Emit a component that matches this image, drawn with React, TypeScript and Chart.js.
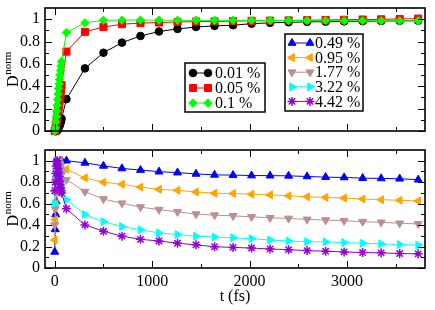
import React, { useEffect, useRef } from 'react';
import { Chart, registerables } from 'chart.js';
import { drawPoint } from 'chart.js/helpers';

Chart.register(...registerables);

// ---------- data ----------
const times = [0, 5, 10, 15, 20, 25, 30, 35, 40, 45, 50, 55, 60, 65, 70,
  120, 310, 500, 690, 880, 1070, 1260, 1450, 1640, 1830, 2020, 2210, 2400, 2590, 2780, 2970, 3160, 3350, 3540, 3730];

const topLabels = ['0.01 %', '0.05 %', '0.1 %'];
const d001 = [0, 0, 0, 0, 0, 0.005, 0.01, 0.02, 0.03, 0.04, 0.05, 0.06, 0.075, 0.09, 0.11,
  0.285, 0.56, 0.70, 0.79, 0.85, 0.89, 0.913, 0.93, 0.94, 0.946, 0.96, 0.967, 0.972, 0.976, 0.978, 0.98, 0.982, 0.984, 0.985, 0.986];
const d005 = [0, 0.01, 0.03, 0.06, 0.09, 0.12, 0.15, 0.18, 0.21, 0.24, 0.27, 0.30, 0.33, 0.37, 0.41,
  0.71, 0.887, 0.93, 0.955, 0.965, 0.97, 0.975, 0.978, 0.98, 0.983, 0.985, 0.987, 0.989, 0.991, 0.993, 0.995, 0.997, 0.999, 1.002, 1.005];
const d01 = [0, 0.03, 0.08, 0.13, 0.18, 0.23, 0.28, 0.33, 0.38, 0.42, 0.46, 0.50, 0.54, 0.58, 0.62,
  0.88, 0.967, 0.99, 0.992, 0.992, 0.991, 0.99, 0.99, 0.99, 0.99, 0.989, 0.989, 0.988, 0.988, 0.988, 0.987, 0.987, 0.987, 0.986, 0.986];

const bottomLabels = ['0.49 %', '0.95 %', '1.77 %', '3.22 %', '4.42 %'];
const d049 = [0.15, 0.36, 0.5, 0.62, 0.72, 0.8, 0.87, 0.92, 0.96, 0.98, 0.99, 1.0, 1.0, 1.0, 1.0,
  1.0, 0.98, 0.952, 0.928, 0.913, 0.898, 0.889, 0.877, 0.868, 0.866, 0.862, 0.861, 0.859, 0.853, 0.847, 0.844, 0.838, 0.835, 0.832, 0.823];
const d095 = [0.26, 0.45, 0.6, 0.72, 0.82, 0.9, 0.95, 0.98, 1.0, 1.0, 0.99, 0.98, 0.965, 0.95, 0.94,
  0.92, 0.84, 0.80, 0.78, 0.754, 0.733, 0.724, 0.709, 0.697, 0.694, 0.688, 0.682, 0.673, 0.664, 0.658, 0.652, 0.643, 0.637, 0.631, 0.625];
const d177 = [0.4, 0.55, 0.7, 0.82, 0.9, 0.96, 0.99, 1.0, 0.99, 0.97, 0.95, 0.93, 0.91, 0.89, 0.87,
  0.823, 0.712, 0.643, 0.604, 0.568, 0.544, 0.523, 0.502, 0.493, 0.486, 0.477, 0.468, 0.462, 0.453, 0.447, 0.441, 0.432, 0.426, 0.417, 0.411];
const d322 = [0.6, 0.72, 0.83, 0.92, 0.98, 1.0, 0.99, 0.96, 0.92, 0.88, 0.84, 0.8, 0.77, 0.74, 0.71,
  0.637, 0.498, 0.432, 0.387, 0.357, 0.327, 0.312, 0.297, 0.288, 0.282, 0.273, 0.261, 0.252, 0.246, 0.243, 0.237, 0.231, 0.225, 0.219, 0.213];
const d442 = [0.72, 0.8, 0.88, 0.95, 0.99, 1.0, 0.97, 0.93, 0.89, 0.85, 0.81, 0.78, 0.75, 0.72, 0.7,
  0.552, 0.402, 0.342, 0.297, 0.267, 0.252, 0.231, 0.216, 0.198, 0.192, 0.186, 0.177, 0.171, 0.162, 0.156, 0.15, 0.144, 0.141, 0.135, 0.132];

const xMajor = [0, 1000, 2000, 3000];
const xMinor = [500, 1500, 2500, 3500];
const yMajor = [0, 0.2, 0.4, 0.6, 0.8, 1];
const yMinor = [0.1, 0.3, 0.5, 0.7, 0.9];
const xTitle = 't (fs)';

// ---------- styles ----------
type Style = { color: string; pointStyle: string; rotation: number; radius: number; bw: number };
const topStyles: Style[] = [
  { color: '#000000', pointStyle: 'circle', rotation: 0, radius: 3.8, bw: 1 },
  { color: '#ff0000', pointStyle: 'rect', rotation: 0, radius: 5, bw: 1 },
  { color: '#00ff00', pointStyle: 'rectRot', rotation: 0, radius: 4.2, bw: 1 },
];
const bottomStyles: Style[] = [
  { color: '#0000ff', pointStyle: 'triangle', rotation: 0, radius: 4.6, bw: 1 },
  { color: '#ffa500', pointStyle: 'triangle', rotation: -90, radius: 4.6, bw: 1 },
  { color: '#bc8f8f', pointStyle: 'triangle', rotation: 180, radius: 4.6, bw: 1 },
  { color: '#00ffff', pointStyle: 'triangle', rotation: 90, radius: 4.6, bw: 1 },
  { color: '#9400d3', pointStyle: 'star', rotation: 0, radius: 4.5, bw: 1.5 },
];

const FONT = '"Liberation Serif", "Times New Roman", serif';

function makeDatasets(labels: string[], series: number[][], styles: Style[]) {
  const n = labels.length;
  return labels.map((label, i) => {
    const s = styles[i];
    return {
      label,
      data: times.map((t, k) => ({ x: t, y: series[i][k] })),
      borderColor: s.color,
      backgroundColor: s.color,
      borderWidth: 1,
      pointStyle: s.pointStyle,
      pointRotation: s.rotation,
      pointRadius: s.radius,
      pointHoverRadius: s.radius,
      pointBorderWidth: s.bw,
      pointBackgroundColor: s.color,
      pointBorderColor: s.color,
      tension: 0,
      order: n - i,
      clip: false,
    };
  });
}

function framePlugin() {
  return {
    id: 'frame',
    afterDatasetsDraw(chart: any) {
      const { ctx, chartArea: a, scales } = chart;
      const x = scales.x, y = scales.y;
      ctx.save();
      ctx.strokeStyle = '#000';
      ctx.lineWidth = 1;
      const seg = (x1: number, y1: number, x2: number, y2: number) => {
        ctx.beginPath(); ctx.moveTo(x1, y1); ctx.lineTo(x2, y2); ctx.stroke();
      };
      const xt = (vals: number[], len: number) => vals.forEach((v) => {
        const p = Math.round(x.getPixelForValue(v)) + 0.5;
        seg(p, a.bottom, p, a.bottom - len);
        seg(p, a.top, p, a.top + len);
      });
      const yt = (vals: number[], len: number) => vals.forEach((v) => {
        const p = Math.round(y.getPixelForValue(v)) + 0.5;
        seg(a.left, p, a.left + len, p);
        seg(a.right, p, a.right - len, p);
      });
      xt(xMajor, 7); xt(xMinor, 4);
      yt(yMajor, 7); yt(yMinor, 4);
      ctx.lineWidth = 1.6;
      ctx.strokeRect(a.left, a.top, a.right - a.left, a.bottom - a.top);
      ctx.restore();
    },
  };
}

function yTitlePlugin(xPos: number) {
  return {
    id: 'ytitle',
    afterDraw(chart: any) {
      const { ctx, chartArea: a } = chart;
      const cy = (a.top + a.bottom) / 2;
      ctx.save();
      ctx.translate(xPos, cy);
      ctx.rotate(-Math.PI / 2);
      ctx.fillStyle = '#000';
      ctx.textBaseline = 'alphabetic';
      ctx.textAlign = 'left';
      ctx.font = `16px ${FONT}`;
      const wD = ctx.measureText('D').width;
      ctx.font = `11px ${FONT}`;
      const wN = ctx.measureText('norm').width;
      const start = -(wD + wN) / 2;
      ctx.font = `16px ${FONT}`;
      ctx.fillText('D', start, 0);
      ctx.font = `11px ${FONT}`;
      ctx.fillText('norm', start + wD + 0.5, -7);
      ctx.restore();
    },
  };
}

type LegendBox = { x: number; y: number; w: number; h: number; row0: number; gap: number; m1: number; m2: number; tx: number; labels: string[]; styles: Style[] };

function legendPlugin(boxes: LegendBox[]) {
  return {
    id: 'boxlegends',
    afterDraw(chart: any) {
      const ctx = chart.ctx;
      boxes.forEach((b) => {
        ctx.save();
        ctx.fillStyle = '#fff';
        ctx.fillRect(b.x, b.y, b.w, b.h);
        ctx.strokeStyle = '#000';
        ctx.lineWidth = 1.5;
        ctx.strokeRect(b.x, b.y, b.w, b.h);
        b.labels.forEach((label, i) => {
          const s = b.styles[i];
          const cy = b.row0 + i * b.gap;
          ctx.strokeStyle = s.color;
          ctx.lineWidth = 1;
          ctx.beginPath(); ctx.moveTo(b.m1, cy); ctx.lineTo(b.m2, cy); ctx.stroke();
          ctx.fillStyle = s.color;
          ctx.lineWidth = s.bw;
          const opts = { pointStyle: s.pointStyle, rotation: s.rotation, radius: s.radius, borderWidth: s.bw };
          drawPoint(ctx, opts as any, b.m1, cy);
          drawPoint(ctx, opts as any, b.m2, cy);
          ctx.fillStyle = '#000';
          ctx.font = `16px ${FONT}`;
          ctx.textBaseline = 'middle';
          ctx.textAlign = 'left';
          ctx.fillText(label, b.tx, cy + 1);
        });
        ctx.restore();
      });
    },
  };
}

function makeScales(showX: boolean, xHeight: number) {
  const xFont = { family: FONT, size: 16, lineHeight: 1 };
  const yFont = { family: FONT, size: 16, lineHeight: 0.35 };
  return {
    x: {
      type: 'linear',
      min: -100,
      max: 3800,
      afterBuildTicks: (ax: any) => { ax.ticks = xMajor.map((v) => ({ value: v })); },
      afterFit: (ax: any) => { ax.height = xHeight; },
      ticks: { display: showX, font: xFont, color: '#000', padding: 6, maxRotation: 0, autoSkip: false, callback: (v: any) => String(v) },
      grid: { display: false, drawTicks: false },
      border: { display: false },
      title: { display: showX, text: xTitle, font: xFont, color: '#000', padding: { top: 0, bottom: 5 } },
    },
    y: {
      type: 'linear',
      min: 0,
      max: 1.1,
      afterBuildTicks: (ax: any) => { ax.ticks = yMajor.map((v) => ({ value: v })); },
      afterFit: (ax: any) => { ax.width = 45; },
      ticks: { font: yFont, color: '#000', padding: 5, autoSkip: false, callback: (v: any) => String(v) },
      grid: { display: false, drawTicks: false },
      border: { display: false },
    },
  };
}

export default function App() {
  const topRef = useRef<HTMLCanvasElement>(null);
  const botRef = useRef<HTMLCanvasElement>(null);

  useEffect(() => {
    const topChart = new Chart(topRef.current as HTMLCanvasElement, {
      type: 'line',
      data: { datasets: makeDatasets(topLabels, [d001, d005, d01], topStyles) as any },
      options: {
        animation: false,
        responsive: false,
        maintainAspectRatio: false,
        layout: { padding: { top: 8, right: 10, left: 0, bottom: 0 } },
        plugins: { legend: { display: false }, tooltip: { enabled: false } },
        scales: makeScales(false, 9) as any,
      },
      plugins: [
        framePlugin(),
        yTitlePlugin(18),
        legendPlugin([
          { x: 185, y: 63, w: 80, h: 49, row0: 73, gap: 15, m1: 193, m2: 208, tx: 215, labels: topLabels, styles: topStyles },
          { x: 285, y: 34, w: 78, h: 77, row0: 43, gap: 14.6, m1: 292, m2: 310, tx: 315, labels: bottomLabels, styles: bottomStyles },
        ]),
      ],
    });
    const botChart = new Chart(botRef.current as HTMLCanvasElement, {
      type: 'line',
      data: { datasets: makeDatasets(bottomLabels, [d049, d095, d177, d322, d442], bottomStyles) as any },
      options: {
        animation: false,
        responsive: false,
        maintainAspectRatio: false,
        layout: { padding: { top: 10, right: 10, left: 0, bottom: 0 } },
        plugins: { legend: { display: false }, tooltip: { enabled: false } },
        scales: makeScales(true, 42) as any,
      },
      plugins: [framePlugin(), yTitlePlugin(18)],
    });
    return () => {
      topChart.destroy();
      botChart.destroy();
    };
  }, []);

  return (
    <div style={{ position: 'fixed', left: 0, top: 0, width: 435, height: 310, background: '#fff' }}>
      <canvas ref={topRef} width={435} height={140} style={{ position: 'absolute', left: 0, top: 0, width: 435, height: 140 }} />
      <canvas ref={botRef} width={435} height={170} style={{ position: 'absolute', left: 0, top: 140, width: 435, height: 170 }} />
    </div>
  );
}
